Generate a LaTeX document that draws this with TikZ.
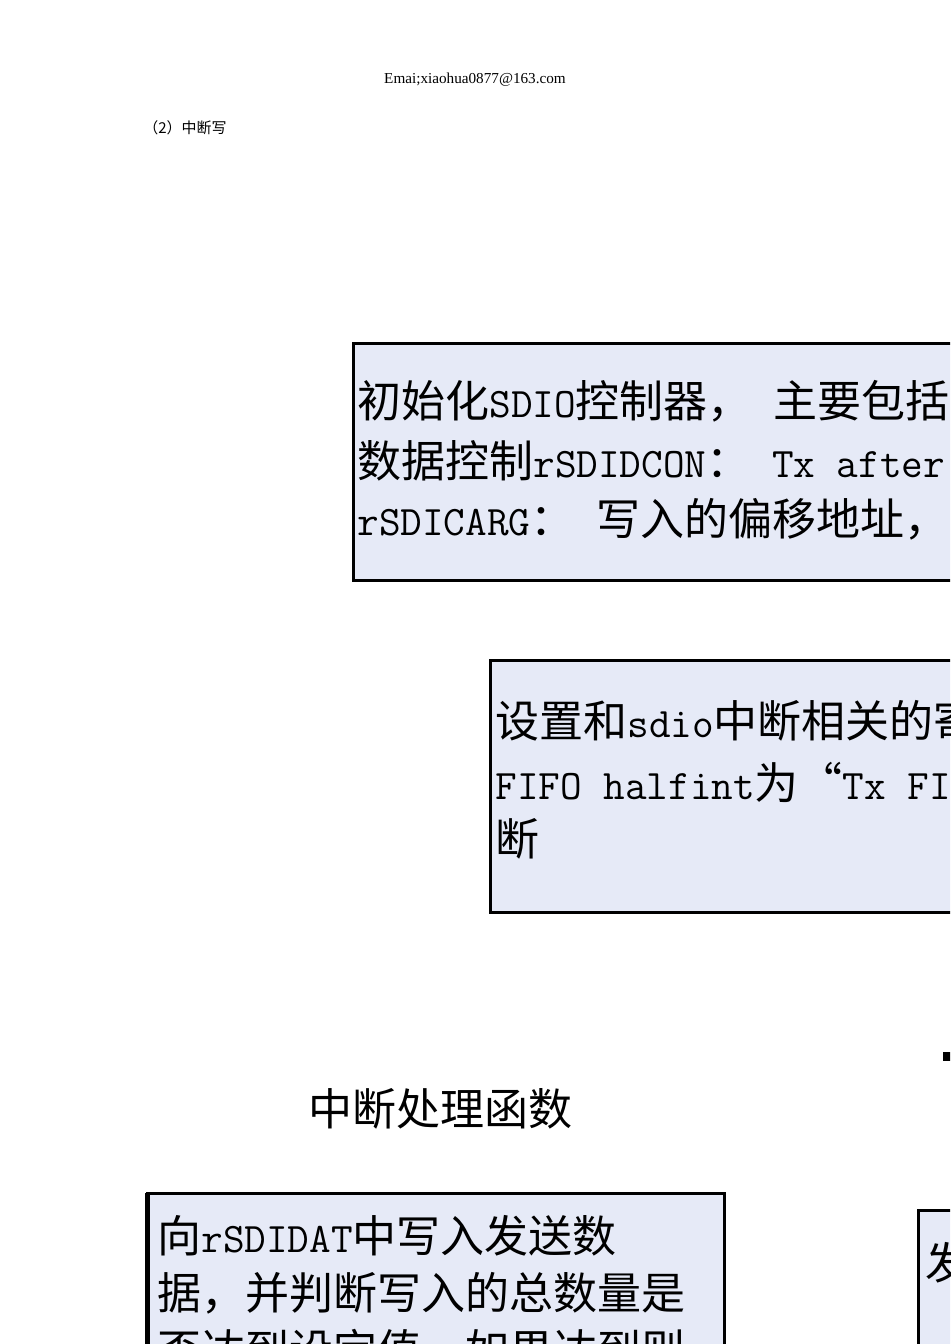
\documentclass[tikz,border=0pt]{standalone}
\usepackage{fontspec}
\setmainfont{Liberation Serif}
\newfontfamily\cjk{Noto Sans CJK SC}
\newcommand{\lat}[1]{{\ttfamily\fontsize{21pt}{21pt}\selectfont #1}}
\definecolor{boxfill}{RGB}{230,234,247}
\tikzset{
    flowbox/.style = {draw = black, line width = 1.5pt, fill = boxfill},
    boxline/.style = {anchor = base west, inner sep = 0pt, font = \cjk\fontsize{22pt}{22pt}\selectfont},
}

\begin{document}
    \begin{tikzpicture}[x = 0.5pt, y = -0.5pt]
        \useasboundingbox (0,0) rectangle (950,1344);
        \clip (0,0) rectangle (950,1344);
        \node[anchor = base, inner sep = 0pt, font = \fontsize{7.6pt}{8pt}\selectfont] (mail) at (475,83) {Emai;xiaohua0877@163.com};
        \node[anchor = base west, inner sep = 0pt, font = \cjk\fontsize{7.5pt}{7.5pt}\selectfont] (part) at (143,133) {（2）中断写};
        \draw[flowbox] (353,343) rectangle (1000,580);
        \begin{scope}[name prefix = init-]
            \node[boxline] (L1) at (357,417) {初始化\lat{SDIO}控制器，\lat{\ }主要包括};
            \node[boxline] (L2) at (357,477) {数据控制\lat{rSDIDCON}：\lat{\ Tx after}};
            \node[boxline] (L3) at (357,535) {\lat{rSDICARG}：\lat{\ }写入的偏移地址，};
        \end{scope}
        \draw[flowbox] (490,660) rectangle (1000,912);
        \begin{scope}[name prefix = irq-]
            \node[boxline] (L1) at (495,737) {设置和\lat{sdio}中断相关的寄};
            \node[boxline] (L2) at (495,799) {\lat{FIFO halfint}为“\lat{Tx FIF}};
            \node[boxline] (L3) at (495,855) {断};
        \end{scope}
        \fill (943,1052) rectangle (960,1061);
        \node[boxline] (handler) at (308,1125) {中断处理函数};
        \draw[flowbox] (147,1193) rectangle (724,1400);
        \draw[line width = 2.5pt] (147,1193) -- (147,1400);
        \begin{scope}[name prefix = write-]
            \node[boxline] (L1) at (157,1252) {向\lat{rSDIDAT}中写入发送数};
            \node[boxline] (L2) at (157,1309) {据，并判断写入的总数量是};
            \node[boxline] (L3) at (157,1366) {否达到设定值，如果达到则};
        \end{scope}
        \draw[flowbox] (918,1210) rectangle (1000,1400);
        \node[boxline] (send) at (925,1279) {发};
    \end{tikzpicture}
\end{document}
